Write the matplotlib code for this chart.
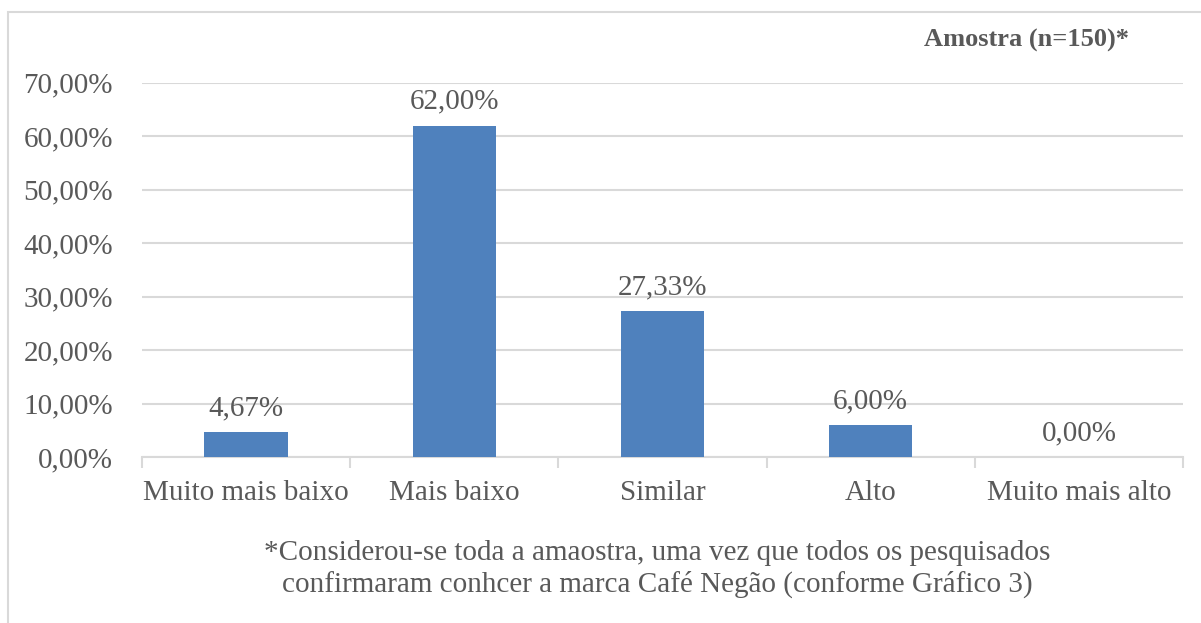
import matplotlib
matplotlib.use("Agg")
import matplotlib.pyplot as plt
from matplotlib.patches import Rectangle

categories = ["Muito mais baixo", "Mais baixo", "Similar", "Alto", "Muito mais alto"]
values = [4.67, 62.00, 27.33, 6.00, 0.00]
yticks = [0, 10, 20, 30, 40, 50, 60, 70]
title = "Amostra (n=150)*"
footnote = ("*Considerou-se toda a amaostra, uma vez que todos os pesquisados\n"
            "confirmaram conhcer a marca Café Negão (conforme Gráfico 3)")

W, H = 1201, 623
plt.rcParams['font.family'] = ['Liberation Serif', 'DejaVu Serif']
TXT = '#595959'
GRID = '#D9D9D9'
BAR = '#4F81BD'
FS = 21

fig = plt.figure(figsize=(W / 100, H / 100), dpi=100)
ax = fig.add_axes([142 / W, 1 - 457.3 / H, (1183 - 142) / W, (457.3 - 82.7) / H])

x = list(range(len(categories)))
ax.bar(x, values, width=0.4, color=BAR, zorder=3)
for xi, v in zip(x, values):
    ax.annotate(f"{v:.2f}%".replace('.', ','), (xi, v), xytext=(0, 8),
                textcoords='offset points', ha='center', va='bottom',
                fontsize=FS, color=TXT)

ax.set_xlim(-0.5, len(categories) - 0.5)
ax.set_ylim(0, 70)
ax.set_yticks(yticks)
ax.set_yticklabels([f"{t:.2f}%".replace('.', ',') for t in yticks], fontsize=FS, color=TXT)
ax.tick_params(axis='y', length=0, pad=21)
ax.yaxis.grid(True, color=GRID, linewidth=1.5, zorder=0)
ax.set_axisbelow(True)

ax.set_xticks(x)
ax.set_xticklabels(categories, fontsize=FS, color=TXT)
ax.tick_params(axis='x', which='major', length=0, pad=16)
ax.set_xticks([i - 0.5 for i in range(len(categories) + 1)], minor=True)
ax.tick_params(axis='x', which='minor', length=8, width=1.5, color=GRID, direction='out')

for s in ['top', 'right', 'left']:
    ax.spines[s].set_visible(False)
ax.spines['bottom'].set_color(GRID)
ax.spines['bottom'].set_linewidth(1.5)

fig.text(1026 / W, 1 - 40 / H, title, ha='center', va='center', fontsize=19,
         fontweight='bold', color=TXT)
fig.text(657 / W, 1 - 569 / H, footnote, ha='center', va='center', fontsize=FS,
         color=TXT, linespacing=1.2)

fig.patches.append(Rectangle((8 / W, -0.1), 1.2, (1 - 12 / H) + 0.1,
                             transform=fig.transFigure, fill=False,
                             edgecolor=GRID, linewidth=1.5))

fig.savefig("out.png", dpi=100)
